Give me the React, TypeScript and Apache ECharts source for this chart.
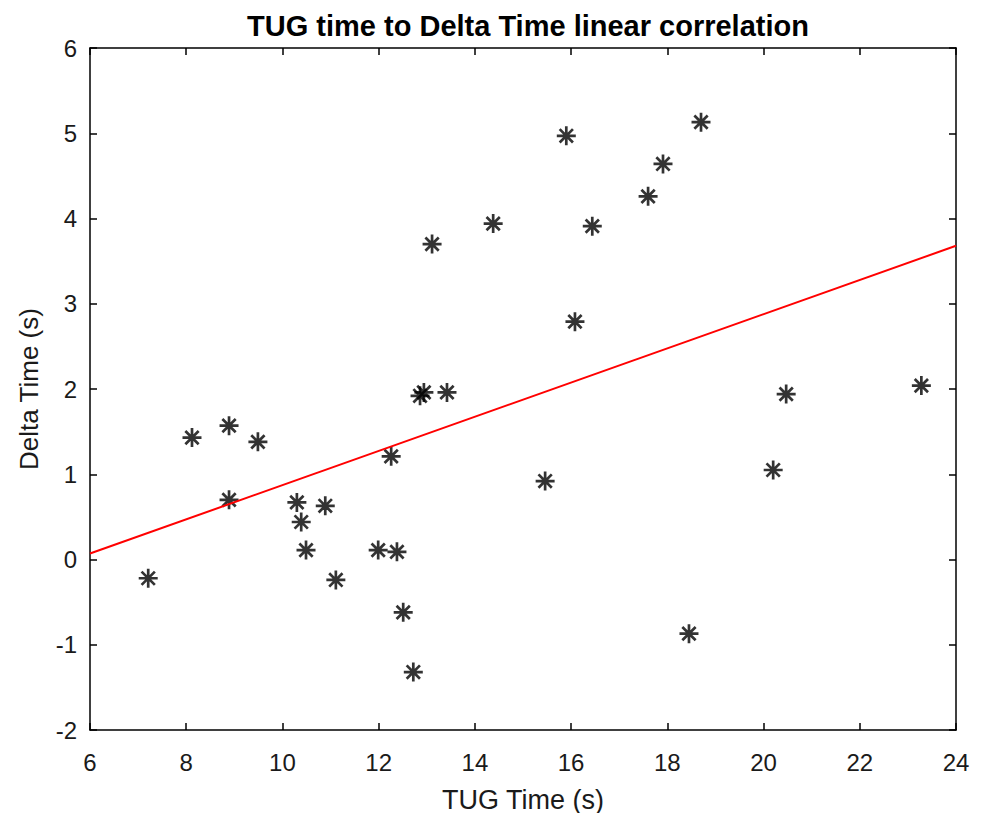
import React, { useEffect, useRef } from "react";
import * as echarts from "echarts";

const tugTime = [7.21, 8.12, 8.89, 8.89, 9.49, 10.3, 10.39, 10.49, 10.89, 11.11, 11.99, 12.26, 12.38, 12.51, 12.72, 12.86, 12.94, 13.42, 13.11, 14.38, 15.46, 15.9, 16.08, 16.44, 17.6, 17.91, 18.45, 18.7, 20.2, 20.47, 23.28];
const deltaTime = [-0.22, 1.43, 1.57, 0.7, 1.38, 0.67, 0.44, 0.11, 0.63, -0.24, 0.11, 1.21, 0.09, -0.62, -1.32, 1.92, 1.96, 1.96, 3.7, 3.94, 0.92, 4.97, 2.79, 3.91, 4.26, 4.64, -0.87, 5.13, 1.05, 1.94, 2.04];
const fitX = [6, 24];
const fitY = [0.07, 3.68];

const xTicks = { min: 6, max: 24, interval: 2 };
const yTicks = { min: -2, max: 6, interval: 1 };

const STAR = "path://M0,-10L0,10M-10,0L10,0M-7,-7L7,7M-7,7L7,-7";

export default function App() {
  const ref = useRef<HTMLDivElement>(null);
  useEffect(() => {
    document.body.style.margin = "0";
    const chart = echarts.init(ref.current!, null, { renderer: "svg" });
    const font = "Liberation Sans, Arial, sans-serif";
    const axisCommon = {
      axisLine: { show: true, onZero: false, lineStyle: { color: "#000", width: 1.5 } },
      axisTick: { show: true, inside: true, length: 7, lineStyle: { color: "#000", width: 1.5 } },
      splitLine: { show: false },
    };
    chart.setOption({
      animation: false,
      backgroundColor: "#fff",
      title: {
        text: "TUG time to Delta Time linear correlation",
        left: 523,
        textAlign: "center",
        top: 6,
        textStyle: { fontFamily: font, fontWeight: "bold", fontSize: 29, color: "#000" },
      },
      grid: { left: 90, right: 28, top: 48, bottom: 83, containLabel: false, outerBoundsMode: "none" },
      xAxis: [
        {
          type: "value",
          position: "bottom",
          ...xTicks,
          ...axisCommon,
          name: "TUG Time (s)",
          nameLocation: "middle",
          nameGap: 56,
          nameTextStyle: { fontFamily: font, fontSize: 27, color: "#1a1a1a" },
          axisLabel: { fontFamily: font, fontSize: 24, color: "#1a1a1a", margin: 20 },
        },
        {
          type: "value",
          position: "top",
          ...xTicks,
          ...axisCommon,
          axisLabel: { show: false },
        },
      ],
      yAxis: [
        {
          type: "value",
          position: "left",
          ...yTicks,
          ...axisCommon,
          name: "Delta Time (s)",
          nameLocation: "middle",
          nameGap: 48,
          nameTextStyle: { fontFamily: font, fontSize: 26, color: "#1a1a1a" },
          axisLabel: { fontFamily: font, fontSize: 24, color: "#1a1a1a", margin: 13 },
        },
        {
          type: "value",
          position: "right",
          ...yTicks,
          ...axisCommon,
          axisLabel: { show: false },
        },
      ],
      series: [
        {
          type: "scatter",
          data: tugTime.map((x, i) => [x, deltaTime[i]]),
          symbol: STAR,
          symbolSize: 19,
          itemStyle: { color: "none", borderColor: "#000", borderWidth: 2.7 },
        },
        {
          type: "line",
          data: fitX.map((x, i) => [x, fitY[i]]),
          showSymbol: false,
          symbol: "none",
          lineStyle: { color: "#ff0000", width: 2 },
        },
      ],
    });
    return () => chart.dispose();
  }, []);
  return <div ref={ref} style={{ width: 984, height: 813 }} />;
}
